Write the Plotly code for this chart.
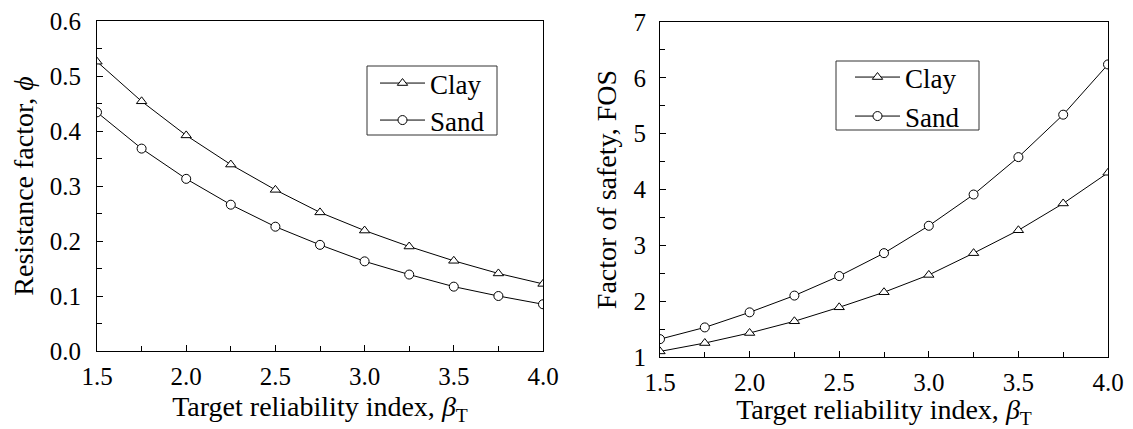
import plotly.graph_objects as go

beta = [1.5, 1.75, 2.0, 2.25, 2.5, 2.75, 3.0, 3.25, 3.5, 3.75, 4.0]
phi_clay = [0.526, 0.454, 0.392, 0.339, 0.293, 0.252, 0.219, 0.190, 0.164, 0.141, 0.122]
phi_sand = [0.434, 0.368, 0.313, 0.266, 0.226, 0.193, 0.163, 0.139, 0.117, 0.100, 0.085]
fos_clay = [1.10, 1.25, 1.43, 1.64, 1.89, 2.16, 2.47, 2.86, 3.27, 3.75, 4.30]
fos_sand = [1.32, 1.53, 1.80, 2.10, 2.45, 2.86, 3.35, 3.91, 4.58, 5.34, 6.24]

x_ticks = [1.5, 2.0, 2.5, 3.0, 3.5, 4.0]
x_ticklabels = ["1.5", "2.0", "2.5", "3.0", "3.5", "4.0"]
y1_ticks = [0.0, 0.1, 0.2, 0.3, 0.4, 0.5, 0.6]
y1_ticklabels = ["0.0", "0.1", "0.2", "0.3", "0.4", "0.5", "0.6"]
y2_ticks = [1, 2, 3, 4, 5, 6, 7]
y2_ticklabels = ["1", "2", "3", "4", "5", "6", "7"]

FONT = "Liberation Serif, Times New Roman, serif"
PAGE_W, PAGE_H = 1133, 429
OFF = 8  # default body margin of the html page
W, H = PAGE_W - OFF, PAGE_H - OFF

def marker(sym):
    return dict(symbol=sym, size=9, color="white", line=dict(color="black", width=1))

fig = go.Figure()
fig.add_trace(go.Scatter(x=beta, y=phi_clay, name="Clay", mode="lines+markers",
                         line=dict(color="black", width=1), marker=marker("triangle-up"),
                         xaxis="x", yaxis="y", legend="legend", showlegend=True))
fig.add_trace(go.Scatter(x=beta, y=phi_sand, name="Sand", mode="lines+markers",
                         line=dict(color="black", width=1), marker=marker("circle"),
                         xaxis="x", yaxis="y", legend="legend2", showlegend=True))
fig.add_trace(go.Scatter(x=beta, y=fos_clay, name="Clay", mode="lines+markers",
                         line=dict(color="black", width=1), marker=marker("triangle-up"),
                         xaxis="x2", yaxis="y2", legend="legend3", showlegend=True))
fig.add_trace(go.Scatter(x=beta, y=fos_sand, name="Sand", mode="lines+markers",
                         line=dict(color="black", width=1), marker=marker("circle"),
                         xaxis="x2", yaxis="y2", legend="legend4", showlegend=True))

def px_x(p):
    return (p - OFF) / W

def px_y(p):
    return 1 - (p - OFF) / H

axis_common = dict(showline=True, linecolor="black", linewidth=1.2, mirror=True,
                   showgrid=False, zeroline=False, ticks="inside", ticklen=6,
                   tickwidth=1, tickcolor="black", automargin=False,
                   ticklabeloverflow="allow",
                   tickfont=dict(family=FONT, size=25, color="black"))

xtitle = dict(text="Target reliability index, <i>β</i><sub>T</sub>",
              font=dict(family=FONT, size=28, color="black"), standoff=7)

legend_common = dict(xanchor="left", yanchor="top", borderwidth=0, visible=True,
                     bgcolor="rgba(0,0,0,0)", itemwidth=45, tracegroupgap=0,
                     font=dict(family=FONT, size=27, color="black"))

fig.update_layout(
    width=W, height=H,
    showlegend=True,
    paper_bgcolor="white", plot_bgcolor="white",
    margin=dict(l=0, r=0, t=0, b=0),
    font=dict(family=FONT, color="black"),
    xaxis=dict(domain=[px_x(97), px_x(543)], range=[1.5, 4.0], anchor="y",
               tickvals=x_ticks, ticktext=x_ticklabels, ticklabelstandoff=3,
               minor=dict(dtick=0.25, tick0=1.5, ticks="inside", ticklen=5, tickcolor="black"),
               title=xtitle, **axis_common),
    yaxis=dict(domain=[px_y(351), px_y(21)], range=[0, 0.6], anchor="x",
               tickvals=y1_ticks, ticktext=y1_ticklabels, ticklabelstandoff=10,
               minor=dict(dtick=0.05, tick0=0, ticks="inside", ticklen=5, tickcolor="black"),
               title=dict(text="Resistance factor, <i>ϕ</i>",
                          font=dict(family=FONT, size=28, color="black"), standoff=8),
               **axis_common),
    xaxis2=dict(domain=[px_x(660), px_x(1108)], range=[1.5, 4.0], anchor="y2",
                tickvals=x_ticks, ticktext=x_ticklabels, ticklabelstandoff=3,
                minor=dict(dtick=0.25, tick0=1.5, ticks="inside", ticklen=5, tickcolor="black"),
                title=xtitle, **axis_common),
    yaxis2=dict(domain=[px_y(357), px_y(22)], range=[1, 7], anchor="x2",
                tickvals=y2_ticks, ticktext=y2_ticklabels, ticklabelstandoff=8,
                minor=dict(dtick=0.5, tick0=1, ticks="inside", ticklen=5, tickcolor="black"),
                title=dict(text="Factor of safety, FOS",
                           font=dict(family=FONT, size=28, color="black"), standoff=8),
                **axis_common),
    legend=dict(x=px_x(375), y=px_y(59), **legend_common),
    legend2=dict(x=px_x(375), y=px_y(96), **legend_common),
    legend3=dict(x=px_x(850), y=px_y(53), **legend_common),
    legend4=dict(x=px_x(850), y=px_y(92), **legend_common),
    shapes=[
        dict(type="rect", xref="paper", yref="paper",
             x0=px_x(367), x1=px_x(497), y0=px_y(135), y1=px_y(66),
             line=dict(color="#333", width=1), layer="above"),
        dict(type="rect", xref="paper", yref="paper",
             x0=px_x(836), x1=px_x(979), y0=px_y(130), y1=px_y(61),
             line=dict(color="#333", width=1), layer="above"),
    ],
)

fig.write_html("out.html")
